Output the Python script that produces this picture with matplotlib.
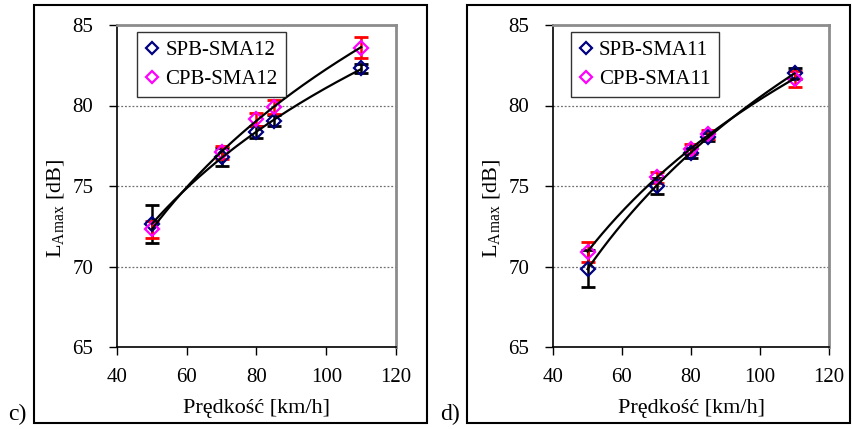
import numpy as np
import matplotlib
matplotlib.use("Agg")
import matplotlib.pyplot as plt
from matplotlib.patches import Rectangle

plt.rcParams['font.family'] = ['Liberation Serif', 'DejaVu Serif']

speeds = [50, 70, 80, 85, 110]

# panel c
spb12 = [72.65, 76.8, 78.35, 79.05, 82.3]
spb12_err = [1.2, 0.55, 0.35, 0.35, 0.3]
cpb12 = [72.3, 77.1, 79.15, 79.9, 83.6]
cpb12_err = [0.5, 0.4, 0.4, 0.45, 0.65]

# panel d
spb11 = [69.85, 75.0, 77.05, 78.05, 82.0]
spb11_err = [1.15, 0.5, 0.3, 0.25, 0.35]
cpb11 = [70.9, 75.55, 77.3, 78.2, 81.65]
cpb11_err = [0.6, 0.35, 0.3, 0.3, 0.5]

xticks = [40, 60, 80, 100, 120]
yticks = [65, 70, 75, 80, 85]

W, H = 853, 429
fig = plt.figure(figsize=(W / 100, H / 100), dpi=100)


def frac_box(x0, y0, x1, y1):
    return [x0 / W, 1 - y1 / H, (x1 - x0) / W, (y1 - y0) / H]


# outer frames
for (x0, x1) in [(34, 427), (467, 850)]:
    b = frac_box(x0, 5, x1, 423)
    fig.add_artist(Rectangle((b[0], b[1]), b[2], b[3], transform=fig.transFigure,
                             fill=False, edgecolor='black', lw=1.5))

fig.text(8 / W, 1 - 414 / H, 'c)', fontsize=17, va='center', ha='left')
fig.text(440 / W, 1 - 414 / H, 'd)', fontsize=17, va='center', ha='left')


def panel(rect, s_vals, s_err, c_vals, c_err, s_lab, c_lab, leg_x, lab_x):
    ax = fig.add_axes(rect)
    ax.set_xlim(40, 120)
    ax.set_ylim(65, 85)
    ax.set_xticks(xticks)
    ax.set_yticks(yticks)
    ax.tick_params(direction='out', length=6, width=1, labelsize=15, color='black')
    ax.tick_params(axis='x', pad=9)
    ax.tick_params(axis='y', pad=11)
    ax.yaxis.grid(True, linestyle=(0, (1.5, 1.5)), color='#707070', lw=0.9)
    ax.set_axisbelow(True)
    for s in ['left', 'bottom']:
        ax.spines[s].set_color('black')
        ax.spines[s].set_linewidth(1.2)
    for s in ['top', 'right']:
        ax.spines[s].set_color('#8c8c8c')
        ax.spines[s].set_linewidth(2)

    ax.errorbar(speeds, s_vals, yerr=s_err, fmt='none', ecolor='black',
                elinewidth=1.8, capsize=5, capthick=2, zorder=3)
    ax.errorbar(speeds, c_vals, yerr=c_err, fmt='none', ecolor='red',
                elinewidth=1.8, capsize=5, capthick=2, zorder=3)
    ax.plot(speeds, s_vals, linestyle='none', marker='D', markersize=7,
            markerfacecolor='none', markeredgecolor='#000080', mew=1.6,
            label=s_lab, zorder=4)
    ax.plot(speeds, c_vals, linestyle='none', marker='D', markersize=7,
            markerfacecolor='none', markeredgecolor='#ff00ff', mew=1.6,
            label=c_lab, zorder=4)

    xs = np.linspace(min(speeds), max(speeds), 200)
    for vals in (s_vals, c_vals):
        a, b = np.polyfit(np.log(speeds), vals, 1)
        ax.plot(xs, a * np.log(xs) + b, color='black', lw=1.6, zorder=5)

    leg = ax.legend(loc='upper left', bbox_to_anchor=(leg_x, 0.978), borderaxespad=0,
                    fontsize=15, frameon=True, fancybox=False, edgecolor='black',
                    handlelength=0.6, handletextpad=0.35, borderpad=0.4,
                    labelspacing=0.45, markerscale=0.85)
    leg.get_frame().set_linewidth(1.0)
    leg.set_zorder(10)

    ax.set_xlabel('Prędkość [km/h]', fontsize=16, labelpad=9)
    ax.set_ylabel(r'L$_{\mathregular{Amax}}$ [dB]', fontsize=16)
    ax.yaxis.set_label_coords(lab_x, 0.43)
    return ax


panel(frac_box(117, 25, 396, 347), spb12, spb12_err, cpb12, cpb12_err,
      'SPB-SMA12', 'CPB-SMA12', 0.072, -0.18)
panel(frac_box(553, 25, 829, 347), spb11, spb11_err, cpb11, cpb11_err,
      'SPB-SMA11', 'CPB-SMA11', 0.065, -0.18)

fig.savefig('out.png', dpi=100)
